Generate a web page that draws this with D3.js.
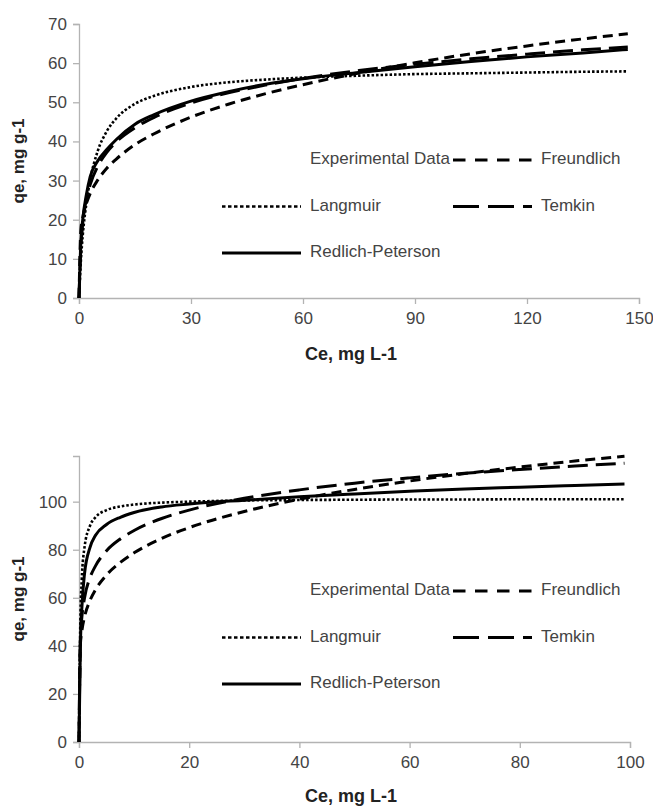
<!DOCTYPE html>
<meta charset="utf-8">
<title>Isotherm fits</title>
<style>
body {
  margin: 0;
  background: #fff;
}
svg {
  display: block;
  font-family: "Liberation Sans", Arial, sans-serif;
}
</style>
<body></body>
<script src="https://cdn.jsdelivr.net/npm/d3@7"></script>
<script>
// ---- top panel data (Ce, qe) ----
var ceTop = [0, 0.5, 1, 2, 3, 5, 7.5, 10, 15, 20, 30, 40, 50, 60, 75, 90, 105, 120, 135, 147];
var langmuirTop = [0, 9.5, 16, 24.3, 30.2, 37.5, 42.7, 45.9, 49.6, 51.6, 53.9, 55.1, 55.8, 56.3, 56.8, 57.2, 57.4, 57.6, 57.8, 57.9];
var freundlichTop = [0, 17.4, 20.5, 24.2, 26.7, 30.1, 33.2, 35.5, 39.2, 41.9, 46.2, 49.5, 52.2, 54.5, 57.5, 60.1, 62.4, 64.4, 66.2, 67.5];
var temkinTop = [0, 12.9, 19.1, 25.4, 29, 33.6, 37.3, 39.9, 43.5, 46.1, 49.8, 52.4, 54.4, 56.1, 58.1, 59.7, 61.1, 62.3, 63.4, 64.1];
var redlichTop = [0, 14, 20, 26.5, 31, 35, 38, 40.5, 44.4, 46.8, 50.3, 52.7, 54.6, 56, 57.6, 59.1, 60.4, 61.6, 62.6, 63.5];
var xTicksTop = [0, 30, 60, 90, 120, 150];
var yTicksTop = [0, 10, 20, 30, 40, 50, 60, 70];

// ---- bottom panel data ----
var ceBot = [0, 0.25, 0.5, 1, 2, 3, 5, 7.5, 10, 15, 20, 30, 40, 50, 60, 70, 80, 90, 99];
var langmuirBot = [0, 50.7, 67.5, 81, 90, 93.5, 96.5, 98, 98.8, 99.6, 100, 100.5, 100.7, 100.8, 100.9, 100.9, 101, 101, 101];
var freundlichBot = [0, 40.5, 45.9, 52, 58.9, 63.4, 69.5, 74.7, 78.7, 84.7, 89.2, 95.9, 101, 105.1, 108.6, 111.7, 114.4, 116.9, 118.9];
var temkinBot = [0, 43, 51.5, 59.9, 68.4, 73.3, 79.6, 84.5, 88, 93, 96.5, 101.4, 104.9, 107.7, 109.9, 111.8, 113.4, 114.8, 116];
var redlichBot = [0, 40, 55, 70, 81, 86, 90.5, 93.5, 95.5, 97.8, 99, 100.6, 102, 103.2, 104.3, 105.3, 106, 106.7, 107.3];
var xTicksBot = [0, 20, 40, 60, 80, 100];
var yTicksBot = [0, 20, 40, 60, 80, 100];

var seriesNames = ['Experimental Data', 'Freundlich', 'Langmuir', 'Temkin', 'Redlich-Peterson'];

// plot dash and legend-swatch dash (the legend swatch is drawn coarser)
var styles = {
  'Experimental Data': null,
  'Freundlich': { dash: '10,6', key: '12.5,9.5', width: 3 },
  'Langmuir': { dash: '2.5,2', key: '3.5,2.5', width: 2.6 },
  'Temkin': { dash: '20,8', key: '26,9', width: 3 },
  'Redlich-Peterson': { dash: null, key: null, width: 3 }
};

var svg = d3.select('body').append('svg')
  .attr('width', 653)
  .attr('height', 807);

function drawPanel(p) {
  var x = d3.scaleLinear().domain(p.xDomain).range([79, p.right]);
  var y = d3.scaleLinear().domain(p.yDomain).range([p.bottom, p.top]);

  var g = svg.append('g');

  // axes
  var xAxis = g.append('g')
    .attr('transform', 'translate(0,' + p.bottom + ')')
    .call(d3.axisBottom(x).tickValues(p.xTicks).tickSize(6).tickPadding(8).tickFormat(d3.format('d')));
  var yAxis = g.append('g')
    .attr('transform', 'translate(79,0)')
    .call(d3.axisLeft(y).tickValues(p.yTicks).tickSize(6).tickPadding(6).tickFormat(d3.format('d')));

  [xAxis, yAxis].forEach(function (a) {
    a.select('.domain').attr('stroke', '#b3b3b3').attr('stroke-width', 1.3);
    a.selectAll('.tick line').attr('stroke', '#b3b3b3').attr('stroke-width', 1.3);
    a.selectAll('.tick text').attr('fill', '#444').style('font-size', '17px');
  });

  // titles
  g.append('text')
    .attr('x', 351)
    .attr('y', p.xTitleY)
    .attr('text-anchor', 'middle')
    .attr('dominant-baseline', 'middle')
    .style('font-size', '18px')
    .style('font-weight', 'bold')
    .attr('fill', '#222')
    .text('Ce, mg L-1');
  g.append('text')
    .attr('transform', 'translate(20,' + (p.top + p.bottom) / 2 + ') rotate(-90)')
    .attr('text-anchor', 'middle')
    .attr('dominant-baseline', 'middle')
    .style('font-size', '17px')
    .style('font-weight', 'bold')
    .attr('fill', '#222')
    .text('qe, mg g-1');

  // fitted curves
  var line = d3.line()
    .x(function (d) { return x(d[0]); })
    .y(function (d) { return y(d[1]); })
    .curve(d3.curveMonotoneX);

  p.series.forEach(function (s) {
    var st = styles[s.name];
    g.append('path')
      .datum(p.ce.map(function (c, i) { return [c, s.values[i]]; }))
      .attr('d', line)
      .attr('fill', 'none')
      .attr('stroke', '#000')
      .attr('stroke-width', st.width)
      .attr('stroke-dasharray', st.dash);
  });

  // legend: two columns, three rows
  var cols = [222, 453];
  var rows = [p.legendY, p.legendY + 46.5, p.legendY + 93];
  seriesNames.forEach(function (name, i) {
    var cx = cols[i % 2], cy = rows[Math.floor(i / 2)];
    var st = styles[name];
    if (st) {
      g.append('line')
        .attr('x1', cx).attr('x2', cx + 79)
        .attr('y1', cy).attr('y2', cy)
        .attr('stroke', '#000')
        .attr('stroke-width', st.width)
        .attr('stroke-dasharray', st.key);
    }
    g.append('text')
      .attr('x', cx + 88)
      .attr('y', cy)
      .attr('dominant-baseline', 'middle')
      .style('font-size', '17px')
      .attr('fill', '#444')
      .text(name);
  });
}

drawPanel({
  xDomain: [0, 150], yDomain: [0, 70], right: 639, top: 24, bottom: 298,
  xTicks: xTicksTop, yTicks: yTicksTop, xTitleY: 355, legendY: 160,
  ce: ceTop,
  series: [
    { name: 'Langmuir', values: langmuirTop },
    { name: 'Freundlich', values: freundlichTop },
    { name: 'Temkin', values: temkinTop },
    { name: 'Redlich-Peterson', values: redlichTop }
  ]
});

drawPanel({
  xDomain: [0, 100], yDomain: [0, 119], right: 630, top: 456, bottom: 742,
  xTicks: xTicksBot, yTicks: yTicksBot, xTitleY: 797, legendY: 591,
  ce: ceBot,
  series: [
    { name: 'Langmuir', values: langmuirBot },
    { name: 'Freundlich', values: freundlichBot },
    { name: 'Temkin', values: temkinBot },
    { name: 'Redlich-Peterson', values: redlichBot }
  ]
});
</script>
